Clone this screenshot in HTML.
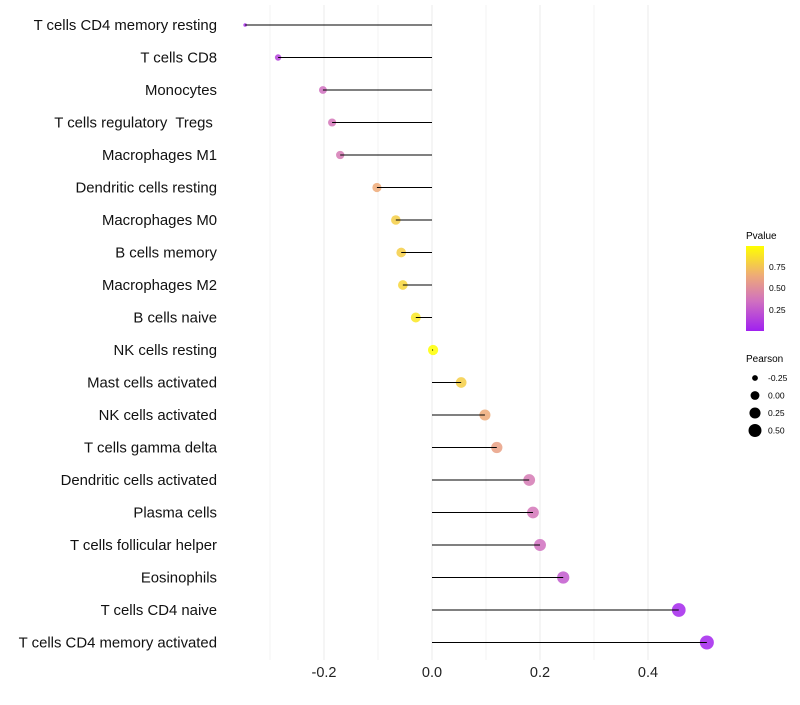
<!DOCTYPE html>
<html><head><meta charset="utf-8"><style>
body{margin:0;background:#fff;font-family:"Liberation Sans",sans-serif}
svg text{font-family:"Liberation Sans",sans-serif;white-space:pre}
</style></head><body>
<svg id="c" width="800" height="700">
<defs><linearGradient id="g" x1="0" y1="1" x2="0" y2="0">
<stop offset="0" stop-color="#a020f0"/><stop offset="0.35" stop-color="#d070c0"/><stop offset="0.65" stop-color="#eeaa78"/><stop offset="1" stop-color="#ffff00"/></linearGradient></defs>
<g id="grid"></g><g id="dots"></g><g id="marks"></g><g id="labels"></g>
<g>
<text x="746" y="239" font-size="10">Pvalue</text>
<rect x="746" y="246" width="18" height="85" fill="url(#g)"/>
<g font-size="8.5"><text x="769" y="270">0.75</text><text x="769" y="291">0.50</text><text x="769" y="313">0.25</text></g>
<text x="746" y="362" font-size="10">Pearson</text>
<g id="sizeleg" font-size="8.5"></g>
</g>
</svg>
<script>
const categories=["T cells CD4 memory resting","T cells CD8","Monocytes","T cells regulatory  Tregs ","Macrophages M1","Dendritic cells resting","Macrophages M0","B cells memory","Macrophages M2","B cells naive","NK cells resting","Mast cells activated","NK cells activated","T cells gamma delta","Dendritic cells activated","Plasma cells","T cells follicular helper","Eosinophils","T cells CD4 naive","T cells CD4 memory activated"];
const pearson=[-0.346,-0.285,-0.202,-0.185,-0.170,-0.102,-0.067,-0.057,-0.054,-0.030,0.002,0.054,0.098,0.120,0.180,0.187,0.200,0.243,0.457,0.509];
const pvalues=[0.05,0.15,0.35,0.38,0.40,0.65,0.80,0.80,0.83,0.90,1.0,0.80,0.65,0.60,0.40,0.38,0.35,0.25,0.03,0.02];
const xTicks=[-0.2,0.0,0.2,0.4];
const sizeLegend=[-0.25,0.00,0.25,0.50];
const NS="http://www.w3.org/2000/svg";
const x=v=>432+v*540, y=i=>25+i*32.5;
const pmin=Math.min(...pearson), pmax=Math.max(...pearson);
const r=v=>1.8+5.2*Math.sqrt(Math.max(0,(v-pmin)/(pmax-pmin)));
const rl=v=>Math.sqrt(Math.max(2,19.6+44.7*v));
const stops=[[0,[160,32,240]],[0.35,[208,112,192]],[0.65,[238,170,120]],[1,[255,255,0]]];
function col(p){for(let k=1;k<stops.length;k++){if(p<=stops[k][0]){const[a,c1]=stops[k-1],[b,c2]=stops[k];const t=(p-a)/(b-a);return"rgb("+c1.map((c,j)=>Math.round(c+(c2[j]-c)*t)).join(",")+")";}}return"rgb(255,255,0)";}
function mk(t,a,p){const e=document.createElementNS(NS,t);for(const k in a)e.setAttribute(k,a[k]);p.appendChild(e);return e;}
const grid=document.getElementById("grid"),marks=document.getElementById("marks"),dots=document.getElementById("dots"),labels=document.getElementById("labels");
for(let v=-0.3;v<=0.41;v+=0.1){const gl=mk("line",{x1:x(v),x2:x(v),y1:5,y2:660,stroke:"#ebebeb","stroke-width":Math.abs(Math.round(v*10))%2?0.6:1},grid);

}
xTicks.forEach(v=>{const t=mk("text",{x:x(v),y:677,"font-size":14.5,"text-anchor":"middle",fill:"#222"},labels);t.textContent=v.toFixed(1);

});
categories.forEach((c,i)=>{
const t=mk("text",{x:217,y:y(i)+5,"font-size":14.9,"text-anchor":"end",fill:"#111"},labels);t.textContent=c;


const d=mk("circle",{cx:x(pearson[i]),cy:y(i),r:r(pearson[i]),fill:col(pvalues[i]),"fill-opacity":0.85},dots);


const l=mk("line",{x1:x(0),x2:x(pearson[i]),y1:y(i),y2:y(i),stroke:"#000","stroke-width":1},marks);


});
const sl=document.getElementById("sizeleg");
sizeLegend.forEach((v,i)=>{const cy=378+i*17.5;
const d=mk("circle",{cx:755,cy:cy,r:rl(v),fill:"#000"},sl);


const t=mk("text",{x:768,y:cy+3},sl);t.textContent=v.toFixed(2);

});
</script>
</body></html>
